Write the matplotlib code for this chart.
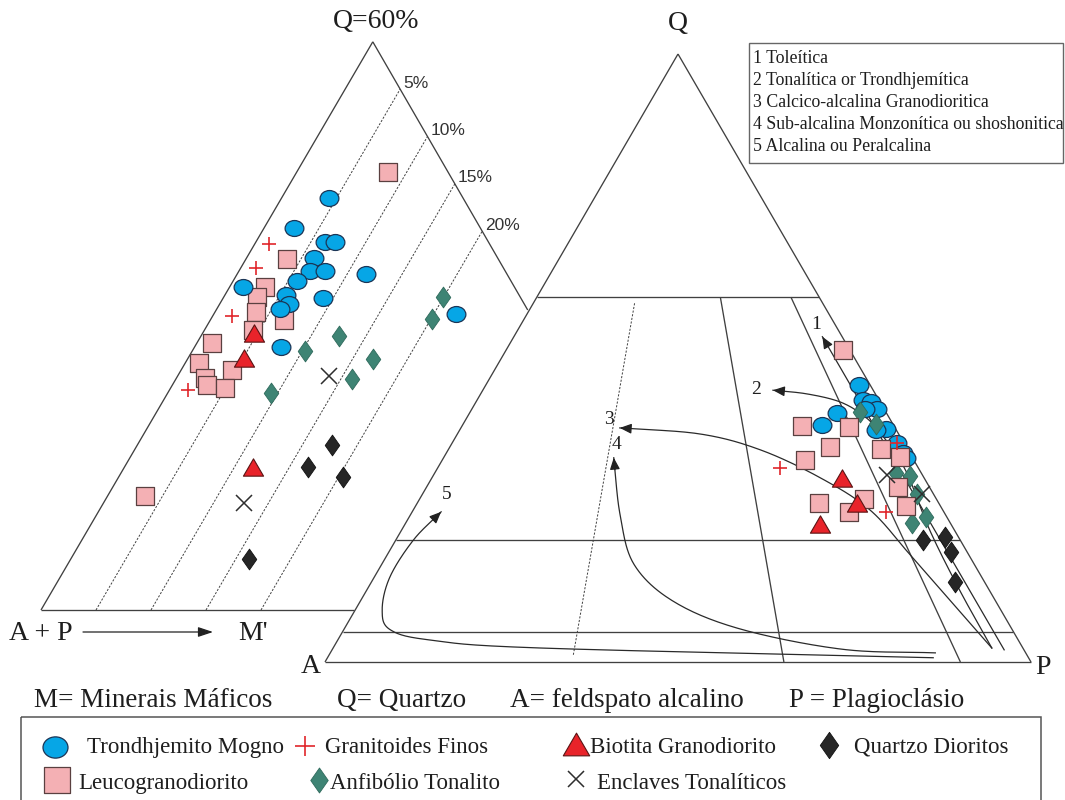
import numpy as np
import matplotlib
matplotlib.use('Agg')
import matplotlib.pyplot as plt
from matplotlib.path import Path
from matplotlib.patches import Rectangle

# ---------------- DATA ----------------
# Left diagram  Q - (A+P) - M'   (values in %, A+P = 100 - Q - M')
trond_L_Q = [43.5, 40.3, 38.9, 38.9, 37.2, 35.8, 35.8, 34.7, 35.5, 34.1, 33.3, 32.3, 31.8, 32.9, 27.8, 31.3]
trond_L_M = [4.3, 2.7, 6.3, 7.2, 6.1, 6.5, 7.8, 5.8, 11.7, 1.2, 5.5, 6.3, 5.7, 9.1, 7.8, 22.0]
leuco_L_Q = [46.3, 37.1, 34.1, 33.1, 31.5, 30.6, 29.6, 28.2, 26.1, 24.5, 23.8, 25.3, 23.4, 12.0]
leuco_L_M = [8.3, 3.7, 3.2, 3.0, 3.7, 6.7, 4.4, 1.4, 1.2, 2.6, 3.1, 4.6, 5.0, 3.4]
gran_L_Q = [38.7, 36.1, 31.0, 23.2]
gran_L_M = [1.3, 1.4, 1.8, 1.7]
bio_L_Q = [29.3, 26.6, 15.1]
bio_L_M = [4.6, 5.1, 11.7]
anf_L_Q = [33.1, 30.7, 28.9, 27.3, 26.5, 24.4, 22.9]
anf_L_M = [19.9, 20.1, 12.6, 10.3, 16.9, 16.0, 9.4]
encl_L_Q = [24.7, 11.3]
encl_L_M = [13.8, 12.8]
qd_L_Q = [17.4, 15.1, 14.0, 5.4]
qd_L_M = [17.7, 16.7, 20.4, 16.2]

# Right diagram  Q - A - P   (values in %, A = 100 - Q - P)
trond_R_Q = [45.6, 43.1, 42.8, 41.6, 41.6, 40.9, 39.0, 38.4, 38.2, 36.0, 34.3, 33.5]
trond_R_P = [52.9, 54.7, 56.0, 57.4, 55.7, 52.1, 50.9, 60.3, 59.0, 63.0, 64.7, 65.6]
leuco_R_Q = [51.3, 38.8, 38.7, 35.4, 33.2, 35.0, 33.7, 28.8, 26.2, 26.8, 24.7, 25.7]
leuco_R_P = [47.7, 48.1, 54.9, 53.9, 51.4, 61.2, 64.6, 66.8, 56.9, 63.0, 61.9, 69.5]
gran_R_Q = [31.9, 24.7, 36.0]
gran_R_P = [48.5, 67.1, 63.0]
bio_R_Q = [30.2, 26.2, 22.7]
bio_R_P = [58.2, 62.2, 58.8]
anf_R_Q = [41.2, 39.1, 31.1, 30.6, 27.7, 23.9, 22.8]
anf_R_P = [55.2, 58.5, 65.3, 67.5, 70.0, 73.2, 71.7]
encl_R_Q = [30.8, 27.7]
encl_R_P = [64.2, 70.7]
qd_R_Q = [20.1, 20.6, 18.1, 13.2]
qd_R_P = [74.7, 77.5, 79.6, 82.6]

# Differentiation trends (Q %, P %) in the QAP diagram, start -> arrow tip
trend1_Q = [2.0, 53.5]
trend1_P = [95.2, 43.7]
trend2_Q = [2.3, 11.8, 21.7, 31.6, 37.7, 40.6, 42.8, 44.1, 44.7]
trend2_P = [93.3, 84.0, 74.8, 66.4, 59.8, 55.9, 51.5, 46.2, 41.1]
trend3_Q = [2.3, 10.2, 17.6, 25.0, 30.3, 34.9, 37.5, 38.5]
trend3_P = [93.3, 83.4, 74.1, 64.7, 55.0, 44.2, 34.4, 22.5]
trend4_Q = [1.5, 2.1, 5.4, 9.9, 16.0, 24.2, 33.6]
trend4_P = [85.7, 72.2, 56.2, 44.5, 35.8, 29.7, 24.1]
trend5_Q = [0.7, 2.3, 3.6, 5.3, 8.6, 14.0, 20.1, 24.7]
trend5_P = [85.8, 29.4, 13.2, 6.6, 3.8, 2.2, 2.5, 4.1]

mafic_levels = [5, 10, 15, 20]
mafic_labels = ['5%', '10%', '15%', '20%']
qap_Q_levels = [60, 20, 5]
trend_labels = ['1', '2', '3', '4', '5']
series_legend = ['1 Toleítica', '2 Tonalítica or Trondhjemítica', '3 Calcico-alcalina Granodioritica',
                 '4 Sub-alcalina Monzonítica ou shoshonitica', '5 Alcalina ou Peralcalina']

# ---------------- LAYOUT ----------------
W, H = 1065, 800
fig = plt.figure(figsize=(W / 100, H / 100), dpi=100)
ax = fig.add_axes([0, 0, 1, 1])
ax.set_xlim(0, W)
ax.set_ylim(H, 0)
ax.axis('off')

SERIF = 'Liberation Serif'
SANS = 'Liberation Sans'
LC = '#404040'
TXT = '#1e1e1e'

# vertices of the full ternary frames (axis coordinates)
L_AP = np.array([41.0, 610.0]); L_Q = np.array([594.0, -337.0]); L_M = np.array([1141.0, 610.0])
R_Q = np.array([678.0, 54.0]); R_A = np.array([325.0, 662.0]); R_P = np.array([1031.0, 662.0])


def left_xy(q, m):
    q = np.asarray(q, float) / 100; m = np.asarray(m, float) / 100
    ap = 1 - q - m
    return (ap * L_AP[0] + q * L_Q[0] + m * L_M[0], ap * L_AP[1] + q * L_Q[1] + m * L_M[1])


def right_xy(q, p):
    q = np.asarray(q, float) / 100; p = np.asarray(p, float) / 100
    a = 1 - q - p
    return (a * R_A[0] + q * R_Q[0] + p * R_P[0], a * R_A[1] + q * R_Q[1] + p * R_P[1])


def seg(fn, c0, c1, **kw):
    x0, y0 = fn(*c0); x1, y1 = fn(*c1)
    ax.plot([x0, x1], [y0, y1], **kw)


solid = dict(color=LC, lw=0.95, solid_capstyle='butt', zorder=1)
dotted = dict(color=LC, lw=0.7, ls=(0, (2.2, 1.6)), zorder=1)

# ---- left diagram frame ----
seg(left_xy, (0, 0), (60, 0), **solid)           # M'=0 edge
seg(left_xy, (60, 0), (31.68, 28.32), **solid)   # A+P = 40 edge
seg(left_xy, (0, 0), (0, 28.5), **solid)         # Q = 0 base
for lvl, lab in zip(mafic_levels, mafic_labels):
    seg(left_xy, (0, lvl), (60 - lvl, lvl), **dotted)
    x, y = left_xy(60 - lvl, lvl)
    ax.text(x + 3, y - 1.5, lab, fontsize=12.5, family=SANS, color='#333333', ha='left', va='baseline')

# ---- right (QAP) diagram frame ----
for a, b in [((100, 0), (0, 0)), ((0, 0), (0, 100)), ((0, 100), (100, 0))]:
    seg(right_xy, a, b, **solid)
for ql in qap_Q_levels:
    seg(right_xy, (ql, 0), (ql, 100 - ql), **solid)
seg(right_xy, (59, 41 * 0.35), (1, 99 * 0.35), **dotted)
for r in [0.65, 0.90]:
    seg(right_xy, (60, 40 * r), (0, 100 * r), **solid)


# ---- trend curves ----
def cr_spline(pts, n=24):
    pts = np.asarray(pts, float)
    if len(pts) == 2:
        return pts
    P = np.vstack([pts[0] * 2 - pts[1], pts, pts[-1] * 2 - pts[-2]])
    out = []
    t = np.linspace(0, 1, n, endpoint=False)[:, None]
    for i in range(1, len(P) - 2):
        p0, p1, p2, p3 = P[i - 1], P[i], P[i + 1], P[i + 2]
        out.append(0.5 * ((2 * p1) + (-p0 + p2) * t + (2 * p0 - 5 * p1 + 4 * p2 - p3) * t ** 2
                          + (-p0 + 3 * p1 - 3 * p2 + p3) * t ** 3))
    out.append(pts[-1][None, :])
    return np.vstack(out)


trends = [(trend1_Q, trend1_P), (trend2_Q, trend2_P), (trend3_Q, trend3_P),
          (trend4_Q, trend4_P), (trend5_Q, trend5_P)]
label_off = [(-6, -8), (-17, 4), (-11, -4), (3, -9), (6, -13)]
for (tq, tp), lab, off in zip(trends, trend_labels, label_off):
    xs, ys = right_xy(tq, tp)
    curve = cr_spline(np.column_stack([xs, ys]))
    ax.plot(curve[:, 0], curve[:, 1], color='#2a2a2a', lw=0.9, zorder=2)
    tip = curve[-1]
    if len(curve) == 2:
        v = (curve[0] - tip) / np.hypot(*(curve[0] - tip))
        back = tip + v * 10
    else:
        d = curve[:-1] - tip
        dist = np.hypot(d[:, 0], d[:, 1])
        idx = np.where(dist >= 10)[0]
        back = curve[idx[-1]] if len(idx) else curve[0]
    ax.annotate('', xy=tip, xytext=back,
                arrowprops=dict(arrowstyle='-|>,head_length=0.7,head_width=0.3', color='#222222',
                                lw=0.9, shrinkA=0, shrinkB=0), zorder=3)
    ax.text(tip[0] + off[0], tip[1] + off[1], lab, fontsize=14, family=SERIF, color=TXT,
            ha='center', va='baseline')

# ---------------- markers ----------------
circ = Path.unit_circle()
ELL = Path(circ.vertices * np.array([1.0, 0.85]), circ.codes)
SQR = Path([(-1, -1), (1, -1), (1, 1), (-1, 1), (-1, -1)], closed=True)
TRI = Path([(-0.5, -0.43), (0.5, -0.43), (0, 0.43), (-0.5, -0.43)], closed=True)
DIA = Path([(0, 1), (0.7, 0), (0, -1), (-0.7, 0), (0, 1)], closed=True)

styles = {
    'trond': dict(marker=ELL, ms=13.5, mfc='#06A6E6', mec='#1b3556', mew=0.9, ls='none'),
    'leuco': dict(marker=SQR, ms=12.8, mfc='#F4B0B4', mec='#5a4040', mew=0.9, ls='none'),
    'gran': dict(marker='+', ms=10, mec='#E0262B', mew=1.2, ls='none'),
    'bio': dict(marker=TRI, ms=14.5, mfc='#E8232A', mec='#5a1414', mew=0.8, ls='none'),
    'anf': dict(marker=DIA, ms=15, mfc='#3E8474', mec='#2f6a5c', mew=0.6, ls='none'),
    'qd': dict(marker=DIA, ms=15, mfc='#262626', mec='#111111', mew=0.6, ls='none'),
    'encl': dict(marker='x', ms=11.5, mec='#2e2e2e', mew=1.1, ls='none'),
}

left_sets = [('leuco', leuco_L_Q, leuco_L_M), ('trond', trond_L_Q, trond_L_M),
             ('anf', anf_L_Q, anf_L_M), ('qd', qd_L_Q, qd_L_M), ('bio', bio_L_Q, bio_L_M),
             ('gran', gran_L_Q, gran_L_M), ('encl', encl_L_Q, encl_L_M)]
right_sets = [('trond', trond_R_Q, trond_R_P), ('anf', anf_R_Q, anf_R_P),
              ('leuco', leuco_R_Q, leuco_R_P), ('bio', bio_R_Q, bio_R_P),
              ('qd', qd_R_Q, qd_R_P), ('gran', gran_R_Q, gran_R_P), ('encl', encl_R_Q, encl_R_P)]
for z, (k, q, m) in enumerate(left_sets):
    x, y = left_xy(q, m)
    ax.plot(x, y, zorder=5 + z, **styles[k])
for z, (k, q, p) in enumerate(right_sets):
    x, y = right_xy(q, p)
    ax.plot(x, y, zorder=5 + z, **styles[k])

# ---------------- texts ----------------
ax.text(376, 28, 'Q=60%', fontsize=20, family=SERIF, color=TXT, ha='center', va='baseline')
ax.text(678, 30, 'Q', fontsize=20, family=SERIF, color=TXT, ha='center', va='baseline')
ax.text(311, 673, 'A', fontsize=20, family=SERIF, color=TXT, ha='center', va='baseline')
ax.text(1043, 674, 'P', fontsize=20, family=SERIF, color=TXT, ha='center', va='baseline')
ax.text(9, 640, 'A + P', fontsize=20, family=SERIF, color=TXT, ha='left', va='baseline')
ax.text(238, 640, "M'", fontsize=20, family=SERIF, color=TXT, ha='left', va='baseline')
ax.annotate('', xy=(213, 632), xytext=(83, 632),
            arrowprops=dict(arrowstyle='-|>,head_length=0.9,head_width=0.3', color='#222222',
                            lw=0.9, shrinkA=0, shrinkB=0))

for x0, s in [(34, 'M= Minerais Máficos'), (337, 'Q= Quartzo'), (510, 'A= feldspato alcalino'),
              (789, 'P = Plagioclásio')]:
    ax.text(x0, 707, s, fontsize=19.5, family=SERIF, color=TXT, ha='left', va='baseline')

# top-right legend of trends
ax.add_patch(Rectangle((749, 43), 314, 120, fill=False, ec='#666666', lw=1.0, zorder=1))
for i, s in enumerate(series_legend):
    ax.text(753, 63 + 22 * i, s, fontsize=12.8, family=SERIF, color=TXT, ha='left', va='baseline')

# bottom legend of rock types
ax.add_patch(Rectangle((21, 717), 1020, 100, fill=False, ec='#555555', lw=1.1, zorder=1, clip_on=False))
leg = [('trond', 55, 747, 18, 87, 753, 'Trondhjemito Mogno'),
       ('gran', 305, 746, 14.5, 325, 753, 'Granitoides Finos'),
       ('bio', 576, 744, 19, 590, 753, 'Biotita Granodiorito'),
       ('qd', 829, 745, 19, 854, 753, 'Quartzo Dioritos'),
       ('leuco', 57, 780, 19, 78, 789, 'Leucogranodiorito'),
       ('anf', 319, 780, 18, 330, 789, 'Anfibólio Tonalito'),
       ('encl', 576, 779, 11.5, 597, 789, 'Enclaves Tonalíticos')]
for k, mx, my, ms, tx, ty, s in leg:
    st = dict(styles[k]); st['ms'] = ms
    ax.plot([mx], [my], zorder=10, **st)
    ax.text(tx, ty, s, fontsize=16.5, family=SERIF, color=TXT, ha='left', va='baseline')

fig.savefig('out.png', dpi=100)
